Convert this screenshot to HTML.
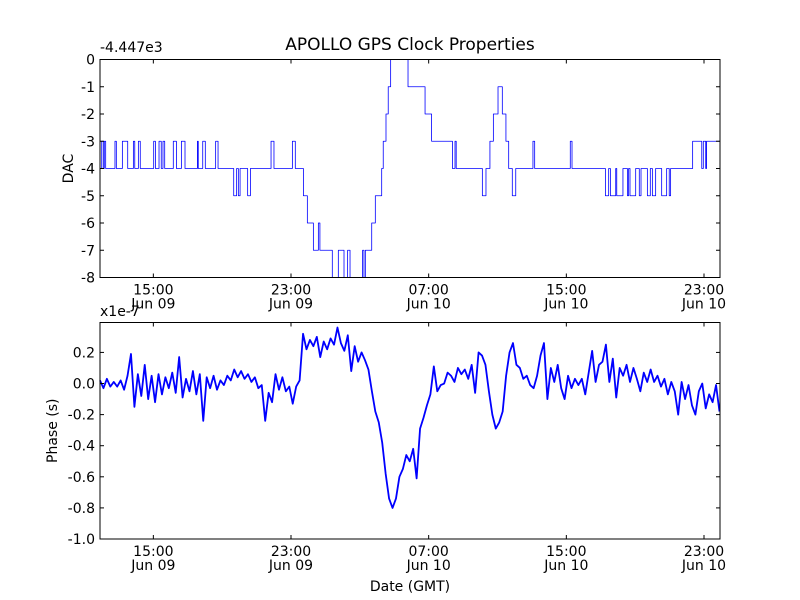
<!DOCTYPE html>
<html><head><meta charset="utf-8"><style>
body{margin:0;background:#fff;}
svg{display:block;font-family:"DejaVu Sans","Liberation Sans",sans-serif;}
</style></head><body>
<svg id="chart" width="800" height="600" viewBox="0 0 800 600">
<rect width="800" height="600" fill="#fff"/>
<text x="410" y="50" font-size="17" text-anchor="middle">APOLLO GPS Clock Properties</text>
<g id="top"></g>
<g id="bot"></g>
<text x="410" y="591" font-size="14" text-anchor="middle">Date (GMT)</text>
</svg>
<script>
// time in hours relative to 15:00 Jun 09
const tickHours = [0, 8, 16, 24, 32];
const tickTimes = ["15:00", "23:00", "07:00", "15:00", "23:00"];
const tickDates = ["Jun 09", "Jun 09", "Jun 10", "Jun 10", "Jun 10"];
const hMin = -3.1, hMax = 32.93;
// DAC step series (change times in hours, value after change)
const dacTimes = [-3.10,-3.00,-2.91,-2.85,-2.77,-2.23,-2.15,-1.80,-1.49,-1.16,-1.08,-0.87,-0.76,0.02,0.12,0.33,0.46,0.56,0.66,1.16,1.34,1.63,1.84,2.56,2.61,2.87,3.02,3.62,3.76,4.67,4.84,4.94,5.04,5.48,5.64,6.84,7.01,8.08,8.25,8.72,8.95,9.30,9.59,9.68,10.40,10.75,11.08,11.29,11.43,12.16,12.24,12.32,12.69,12.90,13.27,13.36,13.52,13.65,13.79,14.80,15.79,16.17,17.38,17.53,17.60,17.67,19.12,19.33,19.56,19.76,20.03,20.28,20.49,20.65,20.86,21.06,22.06,22.16,24.23,24.33,26.27,26.46,26.56,26.87,26.93,27.29,27.55,27.62,27.70,28.03,28.24,28.34,28.71,28.88,29.00,29.19,29.54,29.83,29.98,30.06,31.34,31.87,31.96,32.10,32.15];
const dacValues = [-4,-3,-4,-3,-4,-3,-4,-3,-4,-3,-4,-3,-4,-3,-4,-3,-4,-3,-4,-3,-4,-3,-4,-3,-4,-3,-4,-3,-4,-5,-4,-5,-4,-5,-4,-3,-4,-3,-4,-5,-6,-7,-6,-7,-8,-7,-8,-7,-8,-7,-8,-7,-6,-5,-4,-3,-2,-1,0,-1,-2,-3,-4,-3,-4,-4,-5,-4,-3,-2,-1,-2,-3,-4,-5,-4,-3,-4,-3,-4,-5,-4,-5,-4,-5,-4,-5,-4,-5,-4,-5,-4,-5,-4,-5,-4,-5,-4,-5,-4,-3,-4,-3,-4,-3];
const dacTicks = [0,-1,-2,-3,-4,-5,-6,-7,-8];
// Phase series (x1e-7 s), sampled every 0.2 h from -3.1 h
const phaseStart = -3.1, phaseStep = 0.2;
const phaseValues = [0.02,-0.03,0.03,-0.02,0.01,-0.02,0.02,
-0.04,0.05,0.19,-0.15,0.06,-0.08,0.12,-0.10,0.05,-0.12,
0.06,-0.07,0.04,-0.03,0.07,-0.06,0.17,-0.09,0.03,-0.05,0.08,-0.07,0.06,-0.24,0.04,-0.03,0.05,-0.04,
0.02,-0.01,0.05,0.02,0.09,0.04,0.08,0.03,0.06,0.01,
0.04,-0.03,-0.01,-0.24,-0.06,-0.12,0.06,-0.04,0.04,-0.05,-0.02,-0.13,-0.02,0.02,
0.32,0.22,0.28,0.24,0.30,0.17,0.27,0.22,0.29,0.25,0.36,0.26,0.21,0.31,0.08,0.24,0.14,
0.20,0.15,0.09,-0.05,-0.18,-0.25,-0.38,-0.58,-0.74,-0.80,-0.74,-0.60,-0.55,-0.46,
-0.50,-0.42,-0.61,-0.29,-0.22,-0.14,-0.07,0.11,-0.05,-0.01,0.00,0.07,0.05,0.01,0.10,0.06,0.09,0.03,0.12,-0.06,0.20,0.18,0.12,-0.05,-0.20,-0.29,-0.25,-0.18,0.05,0.20,0.26,0.12,0.10,0.03,0.05,-0.01,-0.03,0.05,0.18,0.26,-0.10,0.10,0.01,0.12,-0.03,-0.10,0.05,-0.03,0.03,-0.01,0.03,-0.07,0.07,0.21,0.01,0.12,0.14,0.25,0.01,0.16,-0.09,0.10,0.05,0.12,0.01,0.10,0.03,-0.05,0.07,0.01,0.09,0.01,0.05,-0.02,0.03,-0.07,0.01,-0.05,-0.20,0.01,-0.10,-0.01,-0.14,-0.20,-0.05,0.00,-0.16,-0.07,-0.12,-0.01,-0.18];
const phaseTicks = [0.2,0.0,-0.2,-0.4,-0.6,-0.8,-1.0];
const phaseTickLabels = ["0.2","0.0","-0.2","-0.4","-0.6","-0.8","-1.0"];

const NS = "http://www.w3.org/2000/svg";
const L = 100, R = 720;
function xS(h){ return L + (h - hMin) / (hMax - hMin) * (R - L); }
function mk(tag, attrs, parent){ const e = document.createElementNS(NS, tag); for (const k in attrs) e.setAttribute(k, attrs[k]); parent.appendChild(e); return e; }

function panel(g, top, bot, yMin, yMax, yTicks, yLabels, pathD, ylabel, ylabelX, offText, offY, sw){
  const yS = v => bot - (v - yMin) / (yMax - yMin) * (bot - top);
  const p = mk("path", {d: pathD(yS), fill: "none", stroke: "#0000ff", "stroke-width": sw, "stroke-linejoin": "round"}, g);
  
  
  const fr = mk("rect", {x: L, y: top, width: R - L, height: bot - top, fill: "none", stroke: "#000", "stroke-width": "1"}, g);
  
  
  yTicks.forEach((v, i) => {
    const y = yS(v);
    mk("line", {x1: L, x2: L + 4, y1: y, y2: y, stroke: "#000"}, g);
    mk("line", {x1: R, x2: R - 4, y1: y, y2: y, stroke: "#000"}, g);
    const t = mk("text", {x: L - 5, y: y + 5, "font-size": "14", "text-anchor": "end"}, g);
    t.textContent = yLabels[i];
    
    
  });
  tickHours.forEach((h, i) => {
    const x = xS(h);
    mk("line", {x1: x, x2: x, y1: bot, y2: bot - 4, stroke: "#000"}, g);
    mk("line", {x1: x, x2: x, y1: top, y2: top + 4, stroke: "#000"}, g);
    const t1 = mk("text", {x: x, y: bot + 17, "font-size": "14", "text-anchor": "middle"}, g);
    t1.textContent = tickTimes[i];
    
    
    const t2 = mk("text", {x: x, y: bot + 31, "font-size": "14", "text-anchor": "middle"}, g);
    t2.textContent = tickDates[i];
    
    
  });
  const cy = (top + bot) / 2;
  const yl = mk("text", {x: ylabelX, y: cy, "font-size": "14", "text-anchor": "middle", transform: `rotate(-90 ${ylabelX} ${cy})`}, g);
  yl.textContent = ylabel;
  
  
  const off = mk("text", {x: L, y: offY, "font-size": "14"}, g);
  off.textContent = offText;
  
  
}

panel(document.getElementById("top"), 59.5, 277.5, -8, 0, dacTicks, dacTicks.map(String), yS => {
  let d = "";
  for (let i = 0; i < dacTimes.length; i++) {
    const x = xS(dacTimes[i]), y = yS(dacValues[i]);
    if (i === 0) d += `M${x},${y}`;
    else d += `L${x},${yS(dacValues[i-1])}L${x},${y}`;
  }
  d += `L${xS(hMax)},${yS(dacValues[dacValues.length-1])}`;
  return d;
}, "DAC", 73, "-4.447e3", 52, "0.8");

panel(document.getElementById("bot"), 322.5, 539, -1.0, 0.3924, phaseTicks, phaseTickLabels, yS => {
  return phaseValues.map((v, i) => (i ? "L" : "M") + xS(phaseStart + i * phaseStep) + "," + yS(v)).join("");
}, "Phase (s)", 57, "x1e-7", 316, "1.8");
</script>
</body></html>
